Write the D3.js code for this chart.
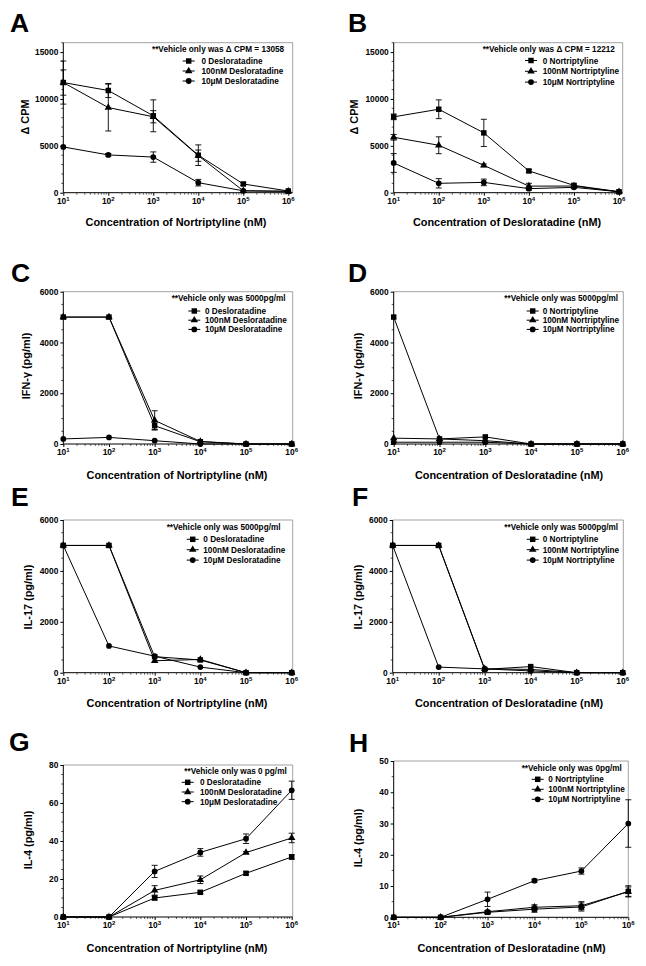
<!DOCTYPE html>
<html>
<head>
<meta charset="utf-8">
<script src="https://cdn.jsdelivr.net/npm/d3@7"></script>
<style>
  html, body { margin: 0; padding: 0; background: #fff; }
  svg { display: block; }
  text { font-family: "Liberation Sans", Arial, Helvetica, sans-serif; font-weight: bold; fill: #000; }
</style>
</head>
<body>
<svg id="chart" width="646" height="966"></svg>
<script>
// ---------------- DATA ----------------
const xConc = [1e1, 1e2, 1e3, 1e4, 1e5, 1e6];
const xTickExponents = [1, 2, 3, 4, 5, 6];

const deslNames = ["0 Desloratadine", "100nM Desloratadine", "10\u03BCM Desloratadine"];
const nortNames = ["0 Nortriptyline", "100nM Nortriptyline", "10\u03BCM Nortriptyline"];

const xLabelNort = "Concentration of Nortriptyline (nM)";
const xLabelDesl = "Concentration of Desloratadine (nM)";

// Panel A – ΔCPM vs nortriptyline
const A_sq  = [11750, 10900, 8200, 4000, 930, 180];
const A_tri = [11750, 9080, 8100, 3950, 200, 150];
const A_cir = [4880, 4030, 3800, 1070, 200, 150];
const A_sqErr  = [2300, 750, 1700, 1100, 150, 0];
const A_triErr = [1350, 2500, 650, 600, 0, 0];
const A_cirErr = [0, 150, 550, 350, 0, 0];
const A_yTicks = [0, 5000, 10000, 15000];

// Panel B – ΔCPM vs desloratadine
const B_sq  = [8090, 8900, 6380, 2320, 780, 100];
const B_tri = [5910, 5060, 2920, 700, 710, 100];
const B_cir = [3170, 1000, 1100, 430, 570, 100];
const B_sqErr  = [300, 1000, 1450, 150, 150, 0];
const B_triErr = [300, 900, 150, 300, 100, 0];
const B_cirErr = [1000, 500, 350, 150, 100, 0];
const B_yTicks = [0, 5000, 10000, 15000];

// Panel C – IFN-γ vs nortriptyline
const C_sq  = [5000, 5000, 720, 90, 0, 0];
const C_tri = [5000, 5000, 930, 100, 0, 0];
const C_cir = [200, 260, 130, 0, 0, 0];
const C_sqErr  = [0, 0, 150, 0, 0, 0];
const C_triErr = [0, 0, 380, 0, 0, 0];
const C_cirErr = [0, 0, 0, 0, 0, 0];
const C_yTicks = [0, 2000, 4000, 6000];

// Panel D – IFN-γ vs desloratadine
const D_sq  = [5000, 200, 280, 0, 0, 0];
const D_tri = [230, 200, 130, 0, 0, 0];
const D_cir = [70, 70, 70, 0, 0, 0];
const D_sqErr  = [0, 0, 0, 0, 0, 0];
const D_triErr = [0, 0, 0, 0, 0, 0];
const D_cirErr = [0, 0, 0, 0, 0, 0];
const D_yTicks = [0, 2000, 4000, 6000];

// Panel E – IL-17 vs nortriptyline
const E_sq  = [5000, 5000, 630, 500, 0, 0];
const E_tri = [5000, 5000, 470, 520, 0, 0];
const E_cir = [5000, 1050, 650, 220, 0, 0];
const E_sqErr  = [0, 0, 0, 0, 0, 0];
const E_triErr = [0, 0, 0, 0, 0, 0];
const E_cirErr = [0, 0, 0, 0, 0, 0];
const E_yTicks = [0, 2000, 4000, 6000];

// Panel F – IL-17 vs desloratadine
const F_sq  = [5000, 5000, 130, 240, 0, 0];
const F_tri = [5000, 5000, 150, 130, 0, 0];
const F_cir = [5000, 220, 150, 70, 0, 0];
const F_sqErr  = [0, 0, 0, 0, 0, 0];
const F_triErr = [0, 0, 0, 0, 0, 0];
const F_cirErr = [0, 0, 0, 0, 0, 0];
const F_yTicks = [0, 2000, 4000, 6000];

// Panel G – IL-4 vs nortriptyline
const G_sq  = [0, 0, 10.0, 13.0, 23.0, 31.6];
const G_tri = [0, 0, 14.0, 19.6, 33.9, 41.6];
const G_cir = [0, 0, 24.0, 34.0, 41.2, 66.7];
const G_sqErr  = [0, 0, 1.0, 0.8, 0.8, 1.2];
const G_triErr = [0, 0, 2.5, 2.0, 0.5, 2.5];
const G_cirErr = [0, 0, 3.2, 2.0, 2.5, 4.8];
const G_yTicks = [0, 20, 40, 60, 80];

// Panel H – IL-4 vs desloratadine
const H_sq  = [0, 0, 1.6, 2.6, 3.3, 8.3];
const H_tri = [0, 0, 1.8, 3.2, 3.7, 8.2];
const H_cir = [0, 0, 5.76, 11.7, 14.8, 30.0];
const H_sqErr  = [0, 0, 0.5, 1.0, 1.3, 1.8];
const H_triErr = [0, 0, 0.3, 0.8, 1.3, 1.5];
const H_cirErr = [0, 0, 2.3, 0.5, 1.0, 7.6];
const H_yTicks = [0, 10, 20, 30, 40, 50];

// ---------------- PANEL LAYOUT ----------------
const panels = [
  { letter: "A", lx: 10, ly: 32, left: 63.3, x6: 288.3, right: 292.7, top: 42.7, bottom: 192.7, ymax: 16000, minor: 1000,
    yTicks: A_yTicks, ylab: "\u0394 CPM", ylx: 25, yly: 117, xlab: xLabelNort, xlx: 176, xly: 225.5,
    header: "**Vehicle only was \u0394 CPM = 13058", names: deslNames,
    leg: { hx: 152, hy: 49, lx: 182.7, tx: 201.5, ry: 61, rdy: 10 },
    series: [[A_sq, A_sqErr, "square"], [A_tri, A_triErr, "triangle"], [A_cir, A_cirErr, "circle"]] },
  { letter: "B", lx: 348, ly: 32, left: 393.7, x6: 619, right: 622.7, top: 42.7, bottom: 192.7, ymax: 16000, minor: 1000,
    yTicks: B_yTicks, ylab: "\u0394 CPM", ylx: 354, yly: 117, xlab: xLabelDesl, xlx: 507, xly: 225.5,
    header: "**Vehicle only was \u0394 CPM = 12212", names: nortNames,
    leg: { hx: 482.7, hy: 49, lx: 525, tx: 542.7, ry: 60.5, rdy: 10.8 },
    series: [[B_sq, B_sqErr, "square"], [B_tri, B_triErr, "triangle"], [B_cir, B_cirErr, "circle"]] },
  { letter: "C", lx: 11, ly: 282, left: 63.3, x6: 291.7, right: 292.7, top: 291.7, bottom: 444, ymax: 6000, minor: 500,
    yTicks: C_yTicks, ylab: "IFN-\u03B3 (pg/ml)", ylx: 26, yly: 366, xlab: xLabelNort, xlx: 177, xly: 479,
    header: "**Vehicle only was 5000pg/ml", names: deslNames,
    leg: { hx: 171.7, hy: 298.3, lx: 188.3, tx: 205, ry: 311, rdy: 9.2 },
    series: [[C_sq, C_sqErr, "square"], [C_tri, C_triErr, "triangle"], [C_cir, C_cirErr, "circle"]] },
  { letter: "D", lx: 348, ly: 282, left: 393.7, x6: 622.7, right: 623.3, top: 291.7, bottom: 444, ymax: 6000, minor: 500,
    yTicks: D_yTicks, ylab: "IFN-\u03B3 (pg/ml)", ylx: 358, yly: 366, xlab: xLabelDesl, xlx: 509, xly: 479,
    header: "**Vehicle only was 5000pg/ml", names: nortNames,
    leg: { hx: 504.3, hy: 298.3, lx: 526.7, tx: 542.7, ry: 311, rdy: 9.2 },
    series: [[D_sq, D_sqErr, "square"], [D_tri, D_triErr, "triangle"], [D_cir, D_cirErr, "circle"]] },
  { letter: "E", lx: 11, ly: 506, left: 63.3, x6: 291.7, right: 292.7, top: 520, bottom: 672.7, ymax: 6000, minor: 500,
    yTicks: E_yTicks, ylab: "IL-17 (pg/ml)", ylx: 28, yly: 597, xlab: xLabelNort, xlx: 177, xly: 707,
    header: "**Vehicle only was 5000pg/ml", names: deslNames,
    leg: { hx: 166.7, hy: 527.3, lx: 186.7, tx: 203.3, ry: 539.3, rdy: 10.4 },
    series: [[E_sq, E_sqErr, "square"], [E_tri, E_triErr, "triangle"], [E_cir, E_cirErr, "circle"]] },
  { letter: "F", lx: 352, ly: 506, left: 392.7, x6: 622.7, right: 623.3, top: 520, bottom: 672.7, ymax: 6000, minor: 500,
    yTicks: F_yTicks, ylab: "IL-17 (pg/ml)", ylx: 358, yly: 597, xlab: xLabelDesl, xlx: 509, xly: 707,
    header: "**Vehicle only was 5000pg/ml", names: nortNames,
    leg: { hx: 504.3, hy: 527.3, lx: 526.7, tx: 542.7, ry: 539.3, rdy: 10.4 },
    series: [[F_sq, F_sqErr, "square"], [F_tri, F_triErr, "triangle"], [F_cir, F_cirErr, "circle"]] },
  { letter: "G", lx: 9, ly: 751, left: 63.3, x6: 291.7, right: 292.7, top: 765, bottom: 917, ymax: 80, minor: 5,
    yTicks: G_yTicks, ylab: "IL-4 (pg/ml)", ylx: 28, yly: 840, xlab: xLabelNort, xlx: 177, xly: 952,
    header: "**Vehicle only was 0 pg/ml", names: deslNames,
    leg: { hx: 184.3, hy: 770.7, lx: 181.7, tx: 200, ry: 782.3, rdy: 9.7 },
    series: [[G_sq, G_sqErr, "square"], [G_tri, G_triErr, "triangle"], [G_cir, G_cirErr, "circle"]] },
  { letter: "H", lx: 349, ly: 752, left: 393.7, x6: 628.3, right: 628.3, top: 761, bottom: 917.3, ymax: 50, minor: 5,
    yTicks: H_yTicks, ylab: "IL-4 (pg/ml)", ylx: 358, yly: 838, xlab: xLabelDesl, xlx: 511.5, xly: 952,
    header: "**Vehicle only was 0pg/ml", names: nortNames,
    leg: { hx: 521.7, hy: 767.7, lx: 531.7, tx: 548.3, ry: 779.3, rdy: 10 },
    series: [[H_sq, H_sqErr, "square"], [H_tri, H_triErr, "triangle"], [H_cir, H_cirErr, "circle"]] }
];

// ---------------- DRAW ----------------
const svg = d3.select("#chart");

const symbolMap = {
  square: d3.symbol().type(d3.symbolSquare).size(30),
  triangle: d3.symbol().type(d3.symbolTriangle).size(24),
  circle: d3.symbol().type(d3.symbolCircle).size(26)
};

function drawPanel(p) {
  const g = svg.append("g");
  const x = d3.scaleLog().domain([xConc[0], xConc[xConc.length - 1]]).range([p.left, p.x6]);
  const y = d3.scaleLinear().domain([0, p.ymax]).range([p.bottom, p.top]);

  // panel letter
  g.append("text").attr("x", p.lx).attr("y", p.ly).attr("font-size", 26.5).text(p.letter);

  // frame (top & right grey)
  g.append("path")
    .attr("d", `M${p.left},${p.top}H${p.right}V${p.bottom}`)
    .attr("fill", "none").attr("stroke", "#8a8a8a").attr("stroke-width", 0.8);

  // Y axis
  const yAxis = d3.axisLeft(y).tickValues(p.yTicks).tickSize(3).tickPadding(2).tickFormat(d3.format("d"));
  const ya = g.append("g").attr("transform", `translate(${p.left},0)`).call(yAxis);
  ya.select(".domain").attr("stroke", "#000").attr("stroke-width", 1).attr("d", `M-0,${p.bottom}V${p.top}`);
  ya.selectAll(".tick line").attr("stroke", "#000");
  ya.selectAll(".tick text").attr("font-size", 8.4).attr("font-family", null).attr("font-weight", "bold");
  ya.attr("font-family", null);
  // y minor ticks
  const yMinor = d3.range(0, p.ymax + 1e-9, p.minor).filter(v => !p.yTicks.includes(v));
  g.append("g").selectAll("line").data(yMinor).join("line")
    .attr("x1", p.left - 2).attr("x2", p.left)
    .attr("y1", d => y(d)).attr("y2", d => y(d))
    .attr("stroke", "#000").attr("stroke-width", 0.7);

  // X axis
  const xAxis = d3.axisBottom(x).tickValues(xConc).tickSize(3).tickFormat("");
  const xa = g.append("g").attr("transform", `translate(0,${p.bottom})`).call(xAxis);
  xa.select(".domain").attr("stroke", "#000").attr("stroke-width", 1).attr("d", `M${p.left},0H${p.right}`);
  xa.selectAll(".tick line").attr("stroke", "#000");
  // x tick labels 10^n
  const xl = g.append("g");
  xConc.forEach((v, i) => {
    const t = xl.append("text").attr("x", x(v)).attr("y", p.bottom + 11)
      .attr("text-anchor", "middle").attr("font-size", 8.4);
    t.append("tspan").text("10");
    t.append("tspan").attr("dy", -3.2).attr("font-size", 6).text(xTickExponents[i]);
  });
  // x minor ticks
  const xMinor = [];
  for (let e = 1; e < 6; e++) for (let k = 2; k <= 9; k++) xMinor.push(k * Math.pow(10, e));
  g.append("g").selectAll("line").data(xMinor).join("line")
    .attr("x1", d => x(d)).attr("x2", d => x(d))
    .attr("y1", p.bottom).attr("y2", p.bottom + 2)
    .attr("stroke", "#000").attr("stroke-width", 0.6);

  // axis titles
  g.append("text").attr("transform", `translate(${p.ylx},${p.yly}) rotate(-90)`)
    .attr("text-anchor", "middle").attr("dy", "0.35em").attr("font-size", 10.9).text(p.ylab);
  g.append("text").attr("x", p.xlx).attr("y", p.xly)
    .attr("text-anchor", "middle").attr("font-size", 10.9).text(p.xlab);

  // series lines
  const line = d3.line().x((d, i) => x(xConc[i])).y(d => y(d));
  p.series.forEach(([vals, errs, sym]) => {
    g.append("path").attr("d", line(vals)).attr("fill", "none")
      .attr("stroke", "#000").attr("stroke-width", 1);
  });
  // error bars
  p.series.forEach(([vals, errs, sym]) => {
    const eg = g.append("g").attr("stroke", "#000").attr("stroke-width", 0.9);
    vals.forEach((v, i) => {
      const e = errs[i];
      if (!e) return;
      const cx = x(xConc[i]);
      const y1 = y(Math.max(0, v - e)), y2 = y(v + e);
      eg.append("line").attr("x1", cx).attr("x2", cx).attr("y1", y1).attr("y2", y2);
      eg.append("line").attr("x1", cx - 3).attr("x2", cx + 3).attr("y1", y2).attr("y2", y2);
      if (v - e > 0) eg.append("line").attr("x1", cx - 3).attr("x2", cx + 3).attr("y1", y1).attr("y2", y1);
    });
  });
  // markers
  p.series.forEach(([vals, errs, sym]) => {
    g.append("g").selectAll("path").data(vals).join("path")
      .attr("d", symbolMap[sym])
      .attr("transform", (d, i) => `translate(${x(xConc[i])},${y(d)})`)
      .attr("fill", "#000");
  });

  // legend
  const L = p.leg;
  g.append("text").attr("x", L.hx).attr("y", L.hy + 3).attr("font-size", 8.2).text(p.header);
  p.series.forEach(([vals, errs, sym], i) => {
    const ry = L.ry + i * L.rdy;
    g.append("line").attr("x1", L.lx).attr("x2", L.lx + 12).attr("y1", ry).attr("y2", ry)
      .attr("stroke", "#000").attr("stroke-width", 1);
    g.append("path").attr("d", symbolMap[sym]).attr("transform", `translate(${L.lx + 6},${ry})`).attr("fill", "#000");
    g.append("text").attr("x", L.tx).attr("y", ry + 3).attr("font-size", 8.2).text(p.names[i]);
  });
}

panels.forEach(drawPanel);
</script>
</body>
</html>
